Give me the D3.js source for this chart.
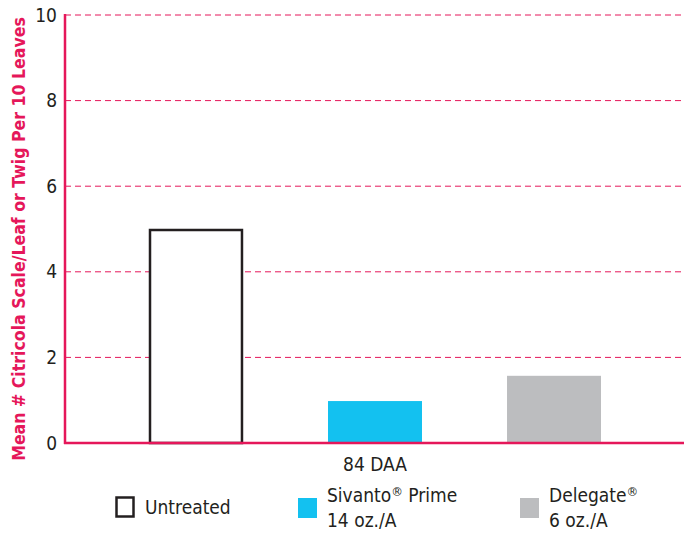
<!DOCTYPE html>
<html><head><meta charset="utf-8">
<script src="https://cdn.jsdelivr.net/npm/d3@7"></script>
<style>
html,body{margin:0;padding:0;background:#fff;}
text{font-family:"Liberation Sans Narrow","DejaVu Sans Condensed","Roboto",sans-serif;}
</style></head>
<body>
<svg id="c" width="684" height="534"></svg>
<script>
const categories = ["Untreated", "Sivanto® Prime 14 oz./A", "Delegate® 6 oz./A"];
const values = [5.0, 0.98, 1.57];
const yTicks = [0, 2, 4, 6, 8, 10];
const groupLabel = "84 DAA";
const yTitle = "Mean # Citricola Scale/Leaf or Twig Per 10 Leaves";
const legendLines = [["Untreated"], ["Sivanto® Prime", "14 oz./A"], ["Delegate®", "6 oz./A"]];

const pink = "#e5175a";
const fills = ["#ffffff", "#13c1f0", "#bcbdbf"];
const strokes = ["#231f20", "none", "none"];

const svg = d3.select("#c");
const x0 = 65, x1 = 684, yTop = 15, yBot = 443;

const y = d3.scaleLinear().domain([0, 10]).range([yBot, yTop]);
const x = d3.scaleBand().domain(categories).range([149, 601]).paddingInner(0.475).paddingOuter(0);

// gridlines
svg.append("g").selectAll("line").data(yTicks.filter(d => d > 0)).join("line")
  .attr("x1", x0).attr("x2", x1)
  .attr("y1", d => y(d)).attr("y2", d => y(d))
  .attr("stroke", pink).attr("stroke-width", 1)
  .attr("stroke-dasharray", "6,4");

// bars
svg.append("g").selectAll("rect").data(categories).join("rect")
  .attr("x", (d, i) => x(d) + (i === 0 ? 1 : 0))
  .attr("width", (d, i) => x.bandwidth() - (i === 0 ? 2 : 0))
  .attr("y", (d, i) => y(values[i]) + (i === 0 ? 1 : 0))
  .attr("height", (d, i) => yBot - y(values[i]) - (i === 0 ? 1 : 0))
  .attr("fill", (d, i) => fills[i])
  .attr("stroke", (d, i) => strokes[i])
  .attr("stroke-width", 2.5);

// axes
const yAxis = d3.axisLeft(y).tickValues(yTicks).tickSize(0).tickPadding(8);
const gy = svg.append("g").attr("transform", `translate(${x0},0)`).call(yAxis);
gy.select(".domain").remove();
gy.selectAll("text").attr("font-size", 19).attr("fill", "#231f20").attr("font-weight", "normal");

svg.append("line").attr("x1", x0).attr("x2", x0).attr("y1", yTop - 1).attr("y2", yBot + 1)
  .attr("stroke", pink).attr("stroke-width", 2.5);
svg.append("line").attr("x1", x0 - 1).attr("x2", x1).attr("y1", yBot).attr("y2", yBot)
  .attr("stroke", pink).attr("stroke-width", 2.5);

// x group label
svg.append("text").attr("x", x(categories[1]) + x.bandwidth() / 2).attr("y", 471)
  .attr("text-anchor", "middle").attr("font-size", 19).attr("fill", "#231f20").text(groupLabel);

// y title: size fitted to span the axis height
const tt = svg.append("text").attr("transform", `translate(25,${(yTop + 463) / 2}) rotate(-90)`)
  .attr("text-anchor", "middle").attr("font-size", 18).attr("font-weight", "bold")
  .attr("fill", pink).text(yTitle);
const len = tt.node().getComputedTextLength();
const fs = Math.min(20, 18 * 444 / len);
tt.attr("font-size", fs);

// legend
const legX = [115, 298, 520];
const lg = svg.append("g");
legendLines.forEach((lines, i) => {
  const g = lg.append("g");
  if (i === 0) {
    g.append("rect").attr("x", legX[i] + 1.5).attr("y", 497.5).attr("width", 17).attr("height", 19)
      .attr("fill", "#fff").attr("stroke", "#231f20").attr("stroke-width", 2.5);
  } else {
    g.append("rect").attr("x", legX[i]).attr("y", 498).attr("width", 19).attr("height", 20)
      .attr("fill", fills[i]);
  }
  const tx = legX[i] + (i === 0 ? 30 : 29);
  if (lines.length === 1) {
    g.append("text").attr("x", tx).attr("y", 514).attr("font-size", 19).attr("fill", "#231f20").text(lines[0]);
  } else {
    lines.forEach((l, j) => {
      const t = g.append("text").attr("x", tx).attr("y", 502 + j * 25).attr("font-size", 19).attr("fill", "#231f20");
      const parts = l.split("®");
      if (parts.length > 1) {
        t.append("tspan").text(parts[0]);
        t.append("tspan").attr("font-size", 13).attr("dy", -6).text("®");
        if (parts[1]) t.append("tspan").attr("dy", 6).text(parts[1]);
      } else t.text(l);
    });
  }
});
</script>
</body></html>
